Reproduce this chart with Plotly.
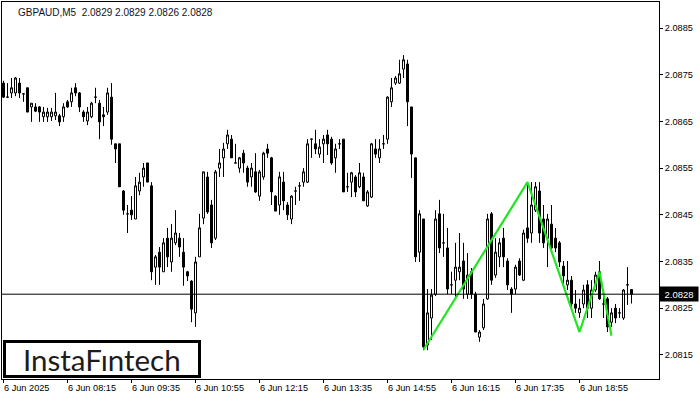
import plotly.graph_objects as go

symbol = "GBPAUD,M5"
header_values = ["2.0829", "2.0829", "2.0826", "2.0828"]

opens = [
    2.08732, 2.08702, 2.08711, 2.08711, 2.08732, 2.08709, 2.08722, 2.08681, 2.08681, 2.08681,
    2.08660, 2.08660, 2.08660, 2.08662, 2.08662, 2.08660, 2.08692, 2.08692, 2.08722, 2.08711,
    2.08670, 2.08651, 2.08660, 2.08702, 2.08689, 2.08664, 2.08670, 2.08702, 2.08602, 2.08602,
    2.08501, 2.08452, 2.08460, 2.08441, 2.08501, 2.08531, 2.08561, 2.08512, 2.08338, 2.08370,
    2.08328, 2.08400, 2.08349, 2.08390, 2.08400, 2.08370, 2.08328, 2.08308, 2.08240, 2.08360,
    2.08443, 2.08531, 2.08471, 2.08400, 2.08550, 2.08572, 2.08602, 2.08612, 2.08561, 2.08550,
    2.08582, 2.08550, 2.08531, 2.08542, 2.08490, 2.08531, 2.08591, 2.08572, 2.08490, 2.08471,
    2.08520, 2.08471, 2.08441, 2.08501, 2.08512, 2.08520, 2.08520, 2.08612, 2.08602, 2.08580,
    2.08602, 2.08621, 2.08612, 2.08572, 2.08602, 2.08612, 2.08510, 2.08520, 2.08531, 2.08510,
    2.08531, 2.08469, 2.08488, 2.08591, 2.08572, 2.08602, 2.08612, 2.08692, 2.08732, 2.08732,
    2.08762, 2.08773, 2.08681, 2.08572, 2.08370, 2.08441, 2.08171, 2.08229, 2.08280, 2.08452,
    2.08390, 2.08379, 2.08300, 2.08310, 2.08328, 2.08351, 2.08280, 2.08328, 2.08280, 2.08188,
    2.08208, 2.08270, 2.08452, 2.08321, 2.08360, 2.08400, 2.08351, 2.08291, 2.08291, 2.08351,
    2.08310, 2.08422, 2.08411, 2.08460, 2.08501, 2.08441, 2.08400, 2.08430, 2.08400, 2.08390,
    2.08340, 2.08300, 2.08310, 2.08259, 2.08240, 2.08259, 2.08300, 2.08250, 2.08289, 2.08328,
    2.08259, 2.08270, 2.08220, 2.08250, 2.08240, 2.08229, 2.08300, 2.08290,
]
highs = [
    2.08737, 2.08732, 2.08743, 2.08745, 2.08743, 2.08709, 2.08722, 2.08689, 2.08689, 2.08683,
    2.08681, 2.08679, 2.08679, 2.08711, 2.08666, 2.08689, 2.08696, 2.08722, 2.08732, 2.08713,
    2.08674, 2.08681, 2.08692, 2.08722, 2.08696, 2.08681, 2.08722, 2.08732, 2.08602, 2.08602,
    2.08503, 2.08471, 2.08490, 2.08531, 2.08540, 2.08561, 2.08561, 2.08520, 2.08364, 2.08381,
    2.08400, 2.08422, 2.08430, 2.08460, 2.08411, 2.08400, 2.08330, 2.08310, 2.08360, 2.08452,
    2.08542, 2.08542, 2.08482, 2.08546, 2.08591, 2.08604, 2.08632, 2.08621, 2.08602, 2.08574,
    2.08589, 2.08555, 2.08561, 2.08582, 2.08546, 2.08585, 2.08602, 2.08574, 2.08492, 2.08542,
    2.08542, 2.08477, 2.08492, 2.08510, 2.08520, 2.08550, 2.08612, 2.08612, 2.08632, 2.08612,
    2.08621, 2.08632, 2.08617, 2.08602, 2.08612, 2.08612, 2.08540, 2.08542, 2.08535, 2.08561,
    2.08540, 2.08503, 2.08604, 2.08612, 2.08612, 2.08621, 2.08704, 2.08743, 2.08747, 2.08782,
    2.08792, 2.08782, 2.08681, 2.08572, 2.08460, 2.08441, 2.08291, 2.08291, 2.08460, 2.08482,
    2.08452, 2.08422, 2.08328, 2.08390, 2.08411, 2.08390, 2.08368, 2.08336, 2.08285, 2.08203,
    2.08270, 2.08452, 2.08456, 2.08400, 2.08400, 2.08422, 2.08357, 2.08295, 2.08343, 2.08357,
    2.08418, 2.08520, 2.08520, 2.08520, 2.08520, 2.08471, 2.08452, 2.08471, 2.08422, 2.08394,
    2.08351, 2.08351, 2.08319, 2.08289, 2.08270, 2.08300, 2.08310, 2.08310, 2.08328, 2.08351,
    2.08280, 2.08274, 2.08250, 2.08259, 2.08250, 2.08291, 2.08338, 2.08290,
]
lows = [
    2.08700, 2.08700, 2.08700, 2.08704, 2.08700, 2.08692, 2.08670, 2.08649, 2.08670, 2.08649,
    2.08649, 2.08649, 2.08651, 2.08653, 2.08640, 2.08649, 2.08679, 2.08681, 2.08704, 2.08670,
    2.08649, 2.08642, 2.08657, 2.08689, 2.08612, 2.08640, 2.08664, 2.08600, 2.08561, 2.08510,
    2.08450, 2.08411, 2.08439, 2.08441, 2.08492, 2.08510, 2.08520, 2.08310, 2.08300, 2.08300,
    2.08328, 2.08338, 2.08328, 2.08385, 2.08360, 2.08298, 2.08308, 2.08220, 2.08210, 2.08360,
    2.08430, 2.08452, 2.08379, 2.08396, 2.08531, 2.08531, 2.08591, 2.08572, 2.08561, 2.08540,
    2.08540, 2.08510, 2.08510, 2.08497, 2.08480, 2.08525, 2.08572, 2.08471, 2.08458, 2.08450,
    2.08460, 2.08439, 2.08430, 2.08471, 2.08480, 2.08510, 2.08518, 2.08572, 2.08580, 2.08572,
    2.08561, 2.08578, 2.08557, 2.08540, 2.08591, 2.08499, 2.08499, 2.08488, 2.08488, 2.08507,
    2.08480, 2.08467, 2.08486, 2.08572, 2.08561, 2.08591, 2.08602, 2.08681, 2.08728, 2.08730,
    2.08743, 2.08640, 2.08529, 2.08349, 2.08349, 2.08160, 2.08160, 2.08182, 2.08276, 2.08368,
    2.08360, 2.08280, 2.08280, 2.08270, 2.08310, 2.08270, 2.08270, 2.08270, 2.08199, 2.08178,
    2.08203, 2.08268, 2.08300, 2.08315, 2.08338, 2.08338, 2.08289, 2.08240, 2.08280, 2.08319,
    2.08308, 2.08390, 2.08390, 2.08456, 2.08390, 2.08379, 2.08338, 2.08370, 2.08370, 2.08338,
    2.08300, 2.08289, 2.08250, 2.08240, 2.08229, 2.08250, 2.08229, 2.08229, 2.08285, 2.08268,
    2.08229, 2.08199, 2.08210, 2.08218, 2.08229, 2.08225, 2.08257, 2.08260,
]
closes = [
    2.08702, 2.08702, 2.08722, 2.08743, 2.08711, 2.08709, 2.08670, 2.08689, 2.08672, 2.08670,
    2.08670, 2.08670, 2.08670, 2.08670, 2.08649, 2.08681, 2.08681, 2.08711, 2.08711, 2.08681,
    2.08660, 2.08670, 2.08689, 2.08702, 2.08649, 2.08660, 2.08711, 2.08612, 2.08591, 2.08510,
    2.08460, 2.08452, 2.08450, 2.08512, 2.08520, 2.08550, 2.08520, 2.08328, 2.08360, 2.08338,
    2.08390, 2.08360, 2.08400, 2.08411, 2.08381, 2.08338, 2.08319, 2.08248, 2.08349, 2.08422,
    2.08542, 2.08456, 2.08390, 2.08542, 2.08561, 2.08591, 2.08621, 2.08572, 2.08561, 2.08572,
    2.08561, 2.08520, 2.08550, 2.08499, 2.08542, 2.08582, 2.08582, 2.08499, 2.08458, 2.08531,
    2.08480, 2.08450, 2.08490, 2.08501, 2.08512, 2.08542, 2.08602, 2.08612, 2.08591, 2.08595,
    2.08612, 2.08602, 2.08561, 2.08591, 2.08602, 2.08499, 2.08510, 2.08540, 2.08499, 2.08540,
    2.08480, 2.08499, 2.08602, 2.08580, 2.08591, 2.08602, 2.08702, 2.08722, 2.08743, 2.08752,
    2.08782, 2.08692, 2.08580, 2.08360, 2.08452, 2.08167, 2.08240, 2.08278, 2.08441, 2.08379,
    2.08390, 2.08291, 2.08300, 2.08338, 2.08338, 2.08291, 2.08321, 2.08280, 2.08199, 2.08199,
    2.08259, 2.08441, 2.08310, 2.08370, 2.08390, 2.08360, 2.08300, 2.08280, 2.08338, 2.08321,
    2.08411, 2.08400, 2.08471, 2.08510, 2.08411, 2.08390, 2.08441, 2.08379, 2.08379, 2.08349,
    2.08319, 2.08310, 2.08259, 2.08250, 2.08250, 2.08289, 2.08250, 2.08289, 2.08321, 2.08270,
    2.08259, 2.08210, 2.08240, 2.08229, 2.08240, 2.08289, 2.08300, 2.08280,
]
assert len(opens) == len(highs) == len(lows) == len(closes)

tick_bars = [0, 16, 32, 48, 64, 80, 96, 112, 128, 144]
tick_labels = ["6 Jun 2025", "6 Jun 08:15", "6 Jun 09:35", "6 Jun 10:55", "6 Jun 12:15",
               "6 Jun 13:35", "6 Jun 14:55", "6 Jun 16:15", "6 Jun 17:35", "6 Jun 18:55"]
price_ticks = [2.0815, 2.0825, 2.0835, 2.0845, 2.0855, 2.0865, 2.0875, 2.0885]
price_labels = ["2.0815", "2.0825", "2.0835", "2.0845", "2.0855", "2.0865", "2.0875", "2.0885"]

pattern_bars = [105, 131, 144, 149, 152]
pattern_prices = [2.08161, 2.08520, 2.08199, 2.08328, 2.08191]

logo_text = "InstaFıntech"

FONT = "Liberation Sans"
bars = list(range(len(opens)))
last_price = closes[-1]

fig = go.Figure()
fig.add_trace(go.Candlestick(
    x=bars, open=opens, high=highs, low=lows, close=closes,
    increasing=dict(fillcolor="white", line=dict(color="black", width=1)),
    decreasing=dict(fillcolor="black", line=dict(color="black", width=1)),
    whiskerwidth=0, hoverinfo="skip", showlegend=False,
))
fig.add_trace(go.Scatter(
    x=pattern_bars, y=pattern_prices, mode="lines",
    line=dict(color="#22e422", width=2.2), hoverinfo="skip", showlegend=False,
))

# current price line
fig.add_shape(type="line", xref="paper", x0=0, x1=1, yref="y", y0=last_price, y1=last_price,
              line=dict(color="black", width=1), layer="above")

# x-axis labels left-aligned at their tick
for b, t in zip(tick_bars, tick_labels):
    fig.add_annotation(x=b, y=0, xref="x", yref="paper", text=t, showarrow=False,
                       xanchor="left", yanchor="top", yshift=-2, xshift=-2,
                       font=dict(family=FONT, size=9.2, color="black"))

# header
fig.add_annotation(x=0, y=1, xref="paper", yref="paper", xanchor="left", yanchor="top",
                   xshift=14, yshift=-3, showarrow=False,
                   text=symbol + "&nbsp;&nbsp;" + " ".join(header_values),
                   font=dict(family=FONT, size=10, color="#111122"))

# current price tag
fig.add_annotation(x=1, y=last_price, xref="paper", yref="y", xanchor="left", yanchor="middle",
                   showarrow=False, text=f"{last_price:.4f}", bgcolor="black",
                   font=dict(family=FONT, size=9.5, color="white"), width=36, height=12,
                   borderpad=1, xshift=0)

# logo box
W, H, L, T = 700, 400, 2, 2
pw, ph = 657, 377
def px(x):
    return (x - L) / pw
def py(y):
    return 1 - (y - T) / ph
fig.add_shape(type="rect", xref="paper", yref="paper",
              x0=px(4.5), x1=px(199.5), y0=py(376.5), y1=py(341.5),
              line=dict(color="black", width=3), fillcolor="white", layer="above")
fig.add_annotation(x=px(102), y=py(359.5), xref="paper", yref="paper", showarrow=False,
                   text=logo_text, xanchor="center", yanchor="middle",
                   font=dict(family="Lato", size=29.5, color="#1c1c1c"))

fig.update_layout(
    width=W, height=H,
    margin=dict(l=L, r=41, t=T, b=21),
    paper_bgcolor="white", plot_bgcolor="white",
    hovermode=False,
    boxgap=0.5, boxgroupgap=0,
    xaxis=dict(range=[-0.375, 163.875], showgrid=False, zeroline=False,
               tickvals=tick_bars, ticktext=[""] * len(tick_bars),
               ticks="outside", ticklen=3, tickcolor="black", tickwidth=1,
               showline=True, linecolor="black", linewidth=1, mirror=True,
               rangeslider=dict(visible=False), fixedrange=True),
    yaxis=dict(range=[2.080984, 2.089057], side="right", showgrid=False, zeroline=False,
               tickvals=price_ticks, ticktext=price_labels,
               ticks="outside", ticklen=3, tickcolor="black", tickwidth=1,
               tickfont=dict(family=FONT, size=9.2, color="black"),
               showline=True, linecolor="black", linewidth=1, mirror=True, fixedrange=True),
)

fig.write_html("out.html", config={"displayModeBar": False},
               post_script="document.body.style.margin='0px';")
